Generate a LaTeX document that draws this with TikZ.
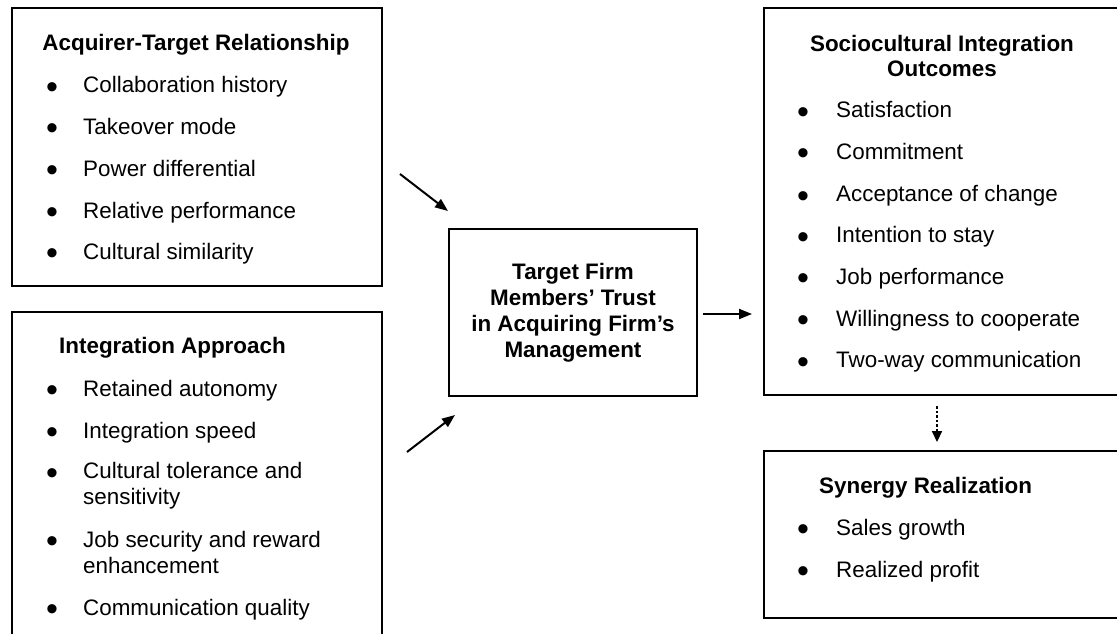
\documentclass[tikz,border=0pt]{standalone}
\usepackage{fontspec}
\setmainfont{Liberation Sans}
\usetikzlibrary{arrows.meta}
\begin{document}
\begin{tikzpicture}[x=1pt,y=-1pt,
  box/.style={draw, line width=2.4pt, inner sep=0pt, outer sep=0pt},
  txt/.style={inner sep=0pt, font=\fontsize{22.4}{25.5}\selectfont},
  ttl/.style={inner sep=0pt, font=\fontsize{22.4}{25.5}\selectfont\bfseries},
  item/.style={txt, anchor=base west, align=left},
  bul/.style={inner sep=0pt, font=\fontsize{34}{34}\selectfont, anchor=base, yshift=-5.5pt},
  arr/.style={line width=2pt, -{Triangle[length=13pt,width=10pt]}},
  darr/.style={line width=2pt, dash pattern=on 2.5pt off 2pt, -{Triangle[length=11pt,width=10pt]}}
]
\clip (0,0) rectangle (1117,633);
\fill[white] (0,0) rectangle (1117,633);

% boxes
\node[box, minimum width=370, minimum height=278] (A) at (197,147) {};
\node[box, minimum width=370, minimum height=348] (B) at (197,486) {};
\node[box, minimum width=248, minimum height=167] (C) at (573,312.5) {};
\node[box, minimum width=366, minimum height=387] (D) at (947,201.5) {};
\node[box, minimum width=366, minimum height=167] (E) at (947,534.5) {};

% box A
\node[ttl, anchor=base] (At) at (196,50) {Acquirer-Target Relationship};
\node[bul] (Ab1) at (52,92.5) {•};  \node[item] (Ai1) at (83,92.5) {Collaboration history};
\node[bul] (Ab2) at (52,134)  {•};  \node[item] (Ai2) at (83,134)  {Takeover mode};
\node[bul] (Ab3) at (52,176)  {•};  \node[item] (Ai3) at (83,176)  {Power differential};
\node[bul] (Ab4) at (52,218)  {•};  \node[item] (Ai4) at (83,218)  {Relative performance};
\node[bul] (Ab5) at (52,259)  {•};  \node[item] (Ai5) at (83,259)  {Cultural similarity};

% box B
\node[ttl, anchor=base west] (Bt) at (59,353) {Integration Approach};
\node[bul] (Bb1) at (52,396) {•};  \node[item] (Bi1) at (83,396) {Retained autonomy};
\node[bul] (Bb2) at (52,438) {•};  \node[item] (Bi2) at (83,438) {Integration speed};
\node[bul] (Bb3) at (52,479) {•};  \node[item] (Bi3) at (83,504) {Cultural tolerance and\\sensitivity};
\node[bul] (Bb4) at (52,547) {•};  \node[item] (Bi4) at (83,573) {Job security and reward\\enhancement};
\node[bul] (Bb5) at (52,615) {•};  \node[item] (Bi5) at (83,615) {Communication quality};

% box C
\node[ttl, align=center, font=\fontsize{22.4}{26}\selectfont\bfseries] (Ct) at (C.center) {Target Firm\\Members’ Trust\\in Acquiring Firm’s\\Management};

% box D
\node[ttl, align=center, anchor=north] (Dt) at (942,35) {Sociocultural Integration\\Outcomes};
\node[bul] (Db1) at (803,117.5) {•}; \node[item] (Di1) at (836,117.5) {Satisfaction};
\node[bul] (Db2) at (803,159)   {•}; \node[item] (Di2) at (836,159)   {Commitment};
\node[bul] (Db3) at (803,201.5) {•}; \node[item] (Di3) at (836,201.5) {Acceptance of change};
\node[bul] (Db4) at (803,242.5) {•}; \node[item] (Di4) at (836,242.5) {Intention to stay};
\node[bul] (Db5) at (803,284)   {•}; \node[item] (Di5) at (836,284)   {Job performance};
\node[bul] (Db6) at (803,326)   {•}; \node[item] (Di6) at (836,326)   {Willingness to cooperate};
\node[bul] (Db7) at (803,367.5) {•}; \node[item] (Di7) at (836,367.5) {Two-way communication};

% box E
\node[ttl, anchor=base west] (Et) at (819,493) {Synergy Realization};
\node[bul] (Eb1) at (803,535) {•}; \node[item] (Ei1) at (836,535) {Sales growth};
\node[bul] (Eb2) at (803,577) {•}; \node[item] (Ei2) at (836,577) {Realized profit};

% connectors
\coordinate (a1s) at (400,174); \coordinate (a1e) at (448,211);
\coordinate (a2s) at (407,452); \coordinate (a2e) at (455,415);
\coordinate (a3s) at (703,314); \coordinate (a3e) at (752,314);
\coordinate (a4s) at (937,406); \coordinate (a4e) at (937,442);
\draw[arr] (a1s) -- (a1e);
\draw[arr] (a2s) -- (a2e);
\draw[arr] (a3s) -- (a3e);
\draw[darr] (a4s) -- (a4e);
\end{tikzpicture}
\end{document}
